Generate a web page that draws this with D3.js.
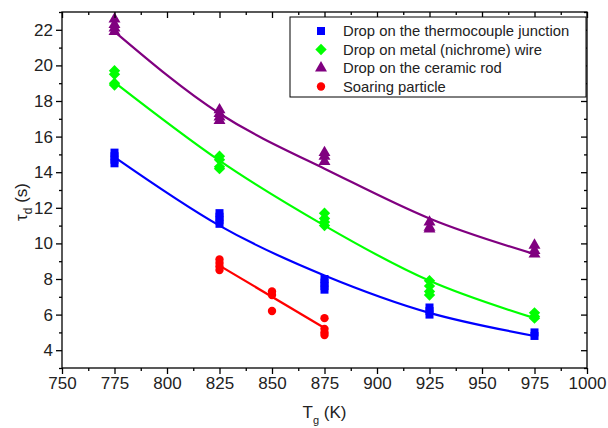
<!DOCTYPE html>
<html><head><meta charset="utf-8">
<script src="https://cdn.jsdelivr.net/npm/d3@7"></script>
<style>body{margin:0;background:#fff}svg{display:block;font-family:"Liberation Sans",Arial,sans-serif}</style>
</head><body><svg id="c" width="608" height="428"></svg>
<script>
const xTicks = [750,775,800,825,850,875,900,925,950,975,1000];
const yTicks = [4,6,8,10,12,14,16,18,20,22];
const seriesNames = ["Drop on the thermocouple junction","Drop on metal (nichrome) wire","Drop on the ceramic rod","Soaring particle"];
const seriesColors = ["#0000ff","#00ff00","#800080","#ff0000"];
const seriesShapes = ["square","diamond","triangle","circle"];
// measured points [T, tau]
const thermocouple = [[775,15.1],[775,14.9],[775,14.7],[775,14.5],[825,11.7],[825,11.5],[825,11.3],[825,11.1],[875,8.0],[875,7.8],[875,7.6],[875,7.4],[925,6.4],[925,6.2],[925,6.0],[975,5.0],[975,4.8]];
const nichrome = [[775,19.7],[775,19.5],[775,19.0],[775,18.9],[825,14.9],[825,14.7],[825,14.3],[825,14.2],[875,11.7],[875,11.4],[875,11.2],[875,11.0],[925,7.9],[925,7.6],[925,7.3],[925,7.1],[975,6.1],[975,5.9],[975,5.8]];
const ceramic = [[775,22.6],[775,22.3],[775,22.1],[775,21.9],[825,17.5],[825,17.3],[825,17.1],[825,16.9],[875,15.1],[875,14.9],[875,14.6],[925,11.2],[925,10.9],[925,10.8],[975,9.9],[975,9.6],[975,9.4]];
const soaring = [[825,9.1],[825,8.9],[825,8.7],[825,8.5],[850,7.3],[850,7.1],[850,6.2],[875,5.8],[875,5.2],[875,5.0],[875,4.85]];
// fitted curves
const fitThermocouple = [[775,14.85],[825,11.0],[875,8.2],[925,6.1],[975,4.8]];
const fitNichrome = [[775,19.05],[825,14.65],[875,11.0],[925,7.9],[975,5.8]];
const fitCeramic = [[775,21.9],[825,17.3],[875,14.2],[925,11.4],[975,9.4]];
const fitSoaring = [[825,8.75],[875,5.25]];

const points = [thermocouple,nichrome,ceramic,soaring];
const fits = [fitThermocouple,fitNichrome,fitCeramic,fitSoaring];

const svg = d3.select("#c");
const L=62,R=587,T=12,B=368;
const x = d3.scaleLinear().domain([750,1000]).range([L,R]);
const y = d3.scaleLinear().domain([3,23]).range([B,T]);

const line = d3.line().x(d=>x(d[0])).y(d=>y(d[1])).curve(d3.curveNatural);
fits.forEach((f,i)=>{
  svg.append("path").attr("d",line(f)).attr("fill","none").attr("stroke",seriesColors[i]).attr("stroke-width",2.2);
});

const diamond = {draw(ctx,size){const r=Math.sqrt(size/2);ctx.moveTo(0,-r);ctx.lineTo(r,0);ctx.lineTo(0,r);ctx.lineTo(-r,0);ctx.closePath();}};
const sym = {
  square: d3.symbol().type(d3.symbolSquare).size(64),
  diamond: d3.symbol().type(diamond).size(64),
  triangle: d3.symbol().type(d3.symbolTriangle).size(62),
  circle: d3.symbol().type(d3.symbolCircle).size(55)
};
points.forEach((p,i)=>{
  svg.append("g").selectAll("path").data(p).join("path")
    .attr("transform",d=>`translate(${x(d[0])},${y(d[1])})`)
    .attr("d",sym[seriesShapes[i]]()).attr("fill",seriesColors[i]);
});

// axes
const fs = 17;
const gx = svg.append("g").attr("transform",`translate(0,${B})`)
  .call(d3.axisBottom(x).tickValues(xTicks).tickSize(6).tickPadding(3).tickFormat(d3.format("d")));
const gxm = svg.append("g").attr("transform",`translate(0,${B})`)
  .call(d3.axisBottom(x).tickValues(d3.range(762.5,1000,25)).tickSize(3).tickFormat(""));
const gy = svg.append("g").attr("transform",`translate(${L},0)`)
  .call(d3.axisLeft(y).tickValues(yTicks).tickSize(6).tickPadding(3));
const gym = svg.append("g").attr("transform",`translate(${L},0)`)
  .call(d3.axisLeft(y).tickValues(d3.range(3,24,2)).tickSize(3).tickFormat(""));
const gt = svg.append("g").attr("transform",`translate(0,${T})`)
  .call(d3.axisBottom(x).tickValues(xTicks).tickSize(6).tickFormat(""));
const gtm = svg.append("g").attr("transform",`translate(0,${T})`)
  .call(d3.axisBottom(x).tickValues(d3.range(762.5,1000,25)).tickSize(3).tickFormat(""));
const gr = svg.append("g").attr("transform",`translate(${R},0)`)
  .call(d3.axisLeft(y).tickValues(yTicks).tickSize(6).tickFormat(""));
const grm = svg.append("g").attr("transform",`translate(${R},0)`)
  .call(d3.axisLeft(y).tickValues(d3.range(3,24,2)).tickSize(3).tickFormat(""));
[gx,gxm,gy,gym,gt,gtm,gr,grm].forEach(g=>{
  g.selectAll(".domain").remove();
  g.selectAll("line").attr("stroke","#000").attr("stroke-width",1.3);
  g.selectAll("text").attr("font-size",fs).attr("font-family","Liberation Sans, Arial, sans-serif").attr("fill","#222");
});
svg.append("rect").attr("x",L).attr("y",T).attr("width",R-L).attr("height",B-T)
  .attr("fill","none").attr("stroke","#000").attr("stroke-width",1.3);

// axis titles
const xt = svg.append("text").attr("x",(L+R)/2).attr("y",418).attr("text-anchor","middle").attr("font-size",17).attr("fill","#222");
xt.append("tspan").text("T");
xt.append("tspan").attr("dy",6).attr("font-size",11).text("g");
xt.append("tspan").attr("dy",-6).text(" (K)");
const yt = svg.append("text").attr("transform","translate(27,202) rotate(-90)").attr("text-anchor","middle").attr("font-size",17).attr("fill","#222");
yt.append("tspan").text("τ");
yt.append("tspan").attr("dy",5).attr("font-size",12).text("d");
yt.append("tspan").attr("dy",-5).text(" (s)");

// legend
const lg = svg.append("g");
lg.append("rect").attr("x",290).attr("y",17).attr("width",296).attr("height",80).attr("fill","#fff").attr("stroke","#000").attr("stroke-width",1);
seriesNames.forEach((n,i)=>{
  const yy = 31 + i*18.5;
  lg.append("path").attr("transform",`translate(321,${yy})`).attr("d",sym[seriesShapes[i]]()).attr("fill",seriesColors[i]);
  lg.append("text").attr("x",343).attr("y",yy).attr("dy","0.35em").attr("font-size",14.8).attr("fill","#222").text(n);
});
</script></body></html>
